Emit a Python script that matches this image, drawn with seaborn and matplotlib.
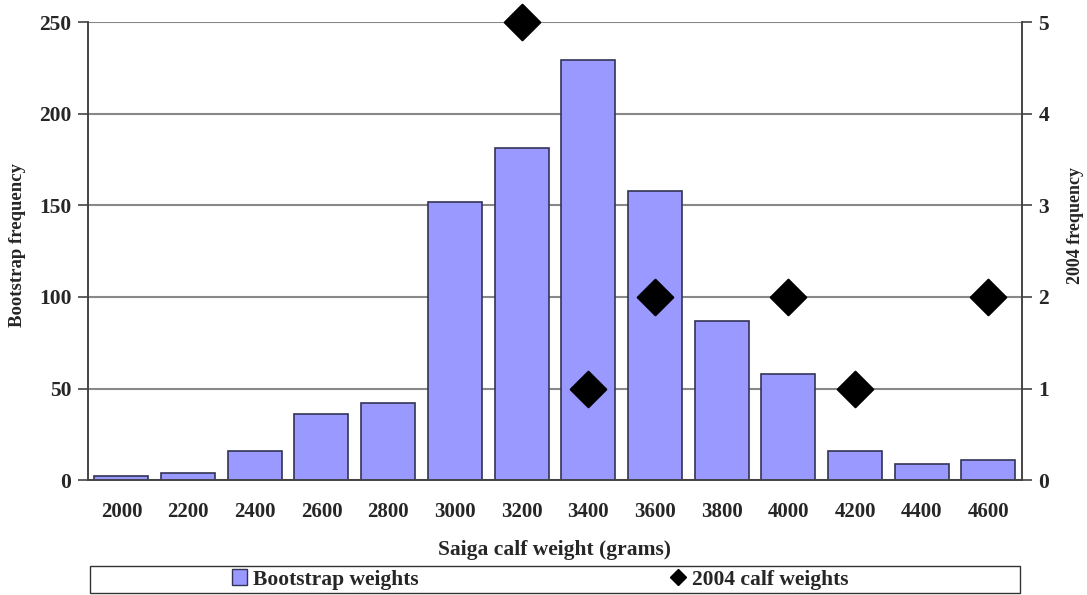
import seaborn as sns
import matplotlib.pyplot as plt
import pandas as pd
from matplotlib.lines import Line2D
from matplotlib.patches import Patch, Rectangle

# datos
weights = ['2000', '2200', '2400', '2600', '2800', '3000', '3200',
           '3400', '3600', '3800', '4000', '4200', '4400', '4600']
bootstrap_freq = [2, 4, 16, 36, 42, 152, 181, 229, 158, 87, 58, 16, 9, 11]

calf_weights = ['3200', '3400', '3600', '4000', '4200', '4600']
calf_freq = [5, 1, 2, 2, 1, 2]

bar_color = '#9999FF'

sns.set_style('white')
plt.rcParams['font.family'] = ['Liberation Serif', 'DejaVu Serif']
plt.rcParams['font.weight'] = 'bold'

df = pd.DataFrame({'weight': weights, 'freq': bootstrap_freq})
df2 = pd.DataFrame({'weight': calf_weights, 'freq': calf_freq})

fig = plt.figure(figsize=(10.87, 5.95), dpi=100)
ax = fig.add_axes([0.081, 0.193, 0.859, 0.770])

sns.barplot(data=df, x='weight', y='freq', color=bar_color, width=0.81,
            edgecolor='#333355', linewidth=1.2, saturation=1, ax=ax, zorder=3)
ax.set_ylim(0, 250)
ax.set_yticks([0, 50, 100, 150, 200, 250])
ax.set_xlim(-0.5, len(weights) - 0.5)
ax.yaxis.grid(True, color='#888888', linewidth=1.5, zorder=0)
ax.set_axisbelow(True)

# ticks del eje x entre las barras
ax.set_xticks(range(len(weights)))
ax.set_xticklabels(weights)
ax.set_xticks([i - 0.5 for i in range(len(weights) + 1)], minor=True)
ax.tick_params(axis='x', which='major', length=0, pad=16, labelsize=15)
ax.tick_params(axis='x', which='minor', length=7, width=1.2, color='#444444', direction='out')
ax.tick_params(axis='y', length=7, width=1.2, color='#444444', direction='out', labelsize=15.5, pad=5)

ax.set_xlabel('Saiga calf weight (grams)', fontsize=15.5, fontweight='bold', labelpad=13)
ax.set_ylabel('')

for s in ['top']:
    ax.spines[s].set_visible(False)
for s in ['left', 'bottom', 'right']:
    ax.spines[s].set_color('#444444')
    ax.spines[s].set_linewidth(1.2)

ax2 = ax.twinx()
sns.scatterplot(data=df2, x='weight', y='freq', marker='D', s=330, color='black',
                edgecolor='black', ax=ax2, zorder=5, legend=False, clip_on=False)
ax2.set_ylim(0, 5)
ax2.set_yticks([0, 1, 2, 3, 4, 5])
ax2.set_xlim(-0.5, len(weights) - 0.5)
ax2.tick_params(axis='y', length=7, width=1.2, color='#444444', direction='out', labelsize=15.5, pad=5)
ax2.set_ylabel('')
ax2.spines['top'].set_visible(False)
for s in ['left', 'bottom', 'right']:
    ax2.spines[s].set_color('#444444')
    ax2.spines[s].set_linewidth(1.2)
ax2.grid(False)

# titulos de los ejes y
fig.text(18 / 1087, 1 - 245 / 595, 'Bootstrap frequency', rotation=90, fontsize=13.5,
         fontweight='bold', ha='center', va='center')
fig.text(1075 / 1087, 1 - 226 / 595, '2004 frequency', rotation=90, fontsize=13,
         fontweight='bold', ha='center', va='center')

# leyenda inferior con caja
fig.patches.append(Rectangle((0.083, 0.004), 0.855, 0.044, transform=fig.transFigure,
                             fill=False, edgecolor='#333333', linewidth=1.0))
handles = [Patch(facecolor=bar_color, edgecolor='#333355', label='Bootstrap weights'),
           Line2D([], [], marker='D', color='black', linestyle='', markersize=8, label='2004 calf weights')]
fig.legend(handles=handles, loc='center', bbox_to_anchor=(0.497, 0.026), ncol=2, frameon=False,
           fontsize=15.5, handlelength=0.7, handleheight=0.7, handletextpad=0.3, columnspacing=11.7)

plt.savefig('out.png', dpi=100)
